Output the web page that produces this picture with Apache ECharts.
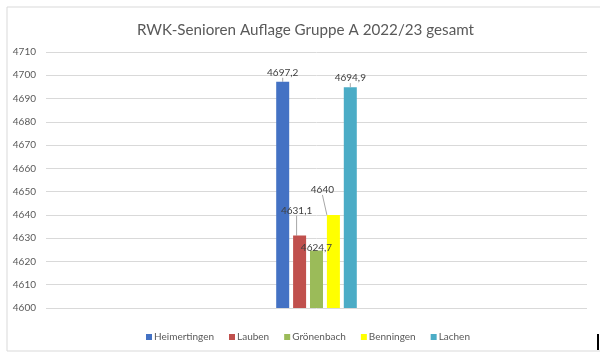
<!DOCTYPE html>
<html lang="de">
<head>
<meta charset="utf-8" />
<title>RWK-Senioren Auflage Gruppe A 2022/23 gesamt</title>
<script src="https://cdn.jsdelivr.net/npm/echarts@6/dist/echarts.min.js"></script>
<style>
  html, body { margin: 0; padding: 0; background: #fff; }
  #chart { width: 600px; height: 353px; }
</style>
</head>
<body>
<div id="chart"></div>
<script>
// Mannschaften (je eine Serie) und Ringzahlen
const teams = ['Heimertingen', 'Lauben', 'Grönenbach', 'Benningen', 'Lachen'];
const scores = [4697.2, 4631.1, 4624.7, 4640, 4694.9];
const teamColors = ['#4472c4', '#c0504d', '#9bbb59', '#ffff00', '#4bacc6'];
// Verschiebung der Beschriftungen wie im Original (dx, dy)
const labelShift = [[0, 0], [-3, -16], [0, 6], [-11, -16], [0, 0]];

const chart = echarts.init(document.getElementById('chart'));

const fmt = function (p) {
  return String(p.value).replace('.', ',');
};

const series = teams.map(function (name, i) {
  return {
    name: name,
    type: 'bar',
    data: [scores[i]],
    barWidth: 13,
    barGap: '30%',
    itemStyle: { color: teamColors[i] },
    label: {
      show: true,
      position: 'top',
      distance: 4,
      formatter: fmt,
      color: '#404040',
      fontSize: 10,
      fontFamily: 'Lato'
    },
    labelLine: {
      show: true,
      lineStyle: { color: '#a6a6a6', width: 1 }
    },
    labelLayout: { dx: labelShift[i][0], dy: labelShift[i][1] }
  };
});

chart.setOption({
  animation: false,
  title: {
    text: 'RWK-Senioren Auflage Gruppe A 2022/23 gesamt',
    left: 132,
    top: 18,
    textStyle: {
      color: '#595959',
      fontSize: 15.2,
      fontWeight: 'normal',
      fontFamily: 'Lato'
    }
  },
  legend: {
    data: teams,
    left: 141,
    top: 327,
    itemWidth: 6,
    itemHeight: 6,
    itemGap: 15,
    icon: 'rect',
    textStyle: { color: '#595959', fontSize: 10, fontFamily: 'Lato', padding: [0, 0, 0, -3] }
  },
  grid: { left: 46, right: 13, top: 52, bottom: 45 },
  xAxis: {
    type: 'category',
    data: [''],
    axisLine: { show: false },
    axisTick: { show: false },
    axisLabel: { show: false }
  },
  yAxis: {
    type: 'value',
    min: 4600,
    max: 4710,
    interval: 10,
    axisLine: { show: false },
    axisTick: { show: false },
    axisLabel: {
      color: '#595959',
      fontSize: 10,
      fontFamily: 'Lato',
      margin: 10,
      formatter: function (v) { return String(v); }
    },
    splitLine: { lineStyle: { color: '#d9d9d9', width: 1 } }
  },
  graphic: [
    {
      type: 'rect',
      shape: { x: 7, y: 7, width: 600, height: 344 },
      style: { fill: 'none', stroke: '#d9d9d9', lineWidth: 1 },
      silent: true
    },
    {
      type: 'rect',
      shape: { x: 597, y: 334, width: 2, height: 16 },
      style: { fill: '#000' },
      silent: true
    }
  ],
  series: series
});
</script>
</body>
</html>
